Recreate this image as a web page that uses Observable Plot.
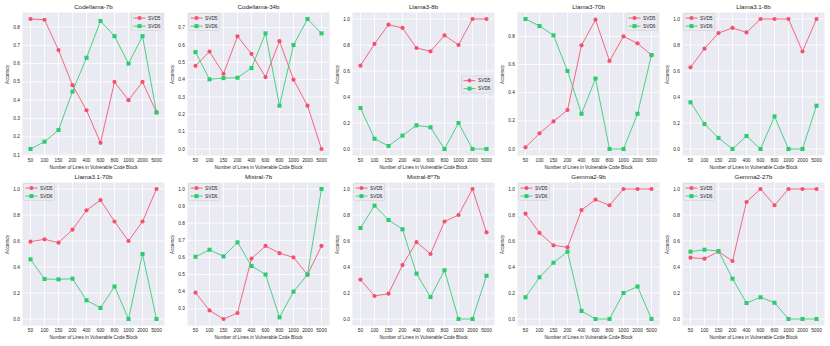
<!DOCTYPE html>
<html>
<head>
<meta charset="utf-8">
<script src="https://cdn.jsdelivr.net/npm/d3@7"></script>
<script src="https://cdn.jsdelivr.net/npm/@observablehq/plot@0.6"></script>
<style>
  body { margin: 0; background: #fff; }
  #wrap { position: relative; width: 830px; height: 346px; }
  #wrap > svg { position: absolute; }
</style>
</head>
<body>
<div id="wrap"></div>
<script>
// ---- data ----
const lineCounts = ["50", "100", "150", "200", "400", "600", "800", "1000", "2000", "5000"];
const models = ["Codellama-7b", "Codellama-34b", "Llama3-8b", "Llama3-70b", "Llama3.1-8b",
                "Llama3.1-70b", "Mistral-7b", "Mixtral-8*7b", "Gemma2-9b", "Gemma2-27b"];
const seriesNames = ["SVD5", "SVD6"];

const svd5 = [
  [0.844, 0.840, 0.674, 0.482, 0.345, 0.167, 0.500, 0.400, 0.500, 0.333], // Codellama-7b
  [0.480, 0.562, 0.434, 0.650, 0.549, 0.415, 0.622, 0.400, 0.250, 0.000], // Codellama-34b
  [0.641, 0.808, 0.956, 0.931, 0.777, 0.751, 0.874, 0.800, 1.000, 1.000], // Llama3-8b
  [0.012, 0.111, 0.196, 0.277, 0.736, 0.918, 0.625, 0.800, 0.750, 0.667], // Llama3-70b
  [0.628, 0.772, 0.892, 0.931, 0.897, 1.000, 1.000, 1.000, 0.750, 1.000], // Llama3.1-8b
  [0.595, 0.613, 0.587, 0.687, 0.836, 0.915, 0.750, 0.600, 0.750, 1.000], // Llama3.1-70b
  [0.394, 0.290, 0.240, 0.275, 0.593, 0.667, 0.625, 0.600, 0.500, 0.667], // Mistral-7b
  [0.303, 0.177, 0.195, 0.415, 0.592, 0.500, 0.750, 0.800, 1.000, 0.667], // Mixtral-8*7b
  [0.810, 0.662, 0.567, 0.551, 0.838, 0.918, 0.875, 1.000, 1.000, 1.000], // Gemma2-9b
  [0.472, 0.464, 0.518, 0.446, 0.900, 1.000, 0.875, 1.000, 1.000, 1.000]  // Gemma2-27b
];
const svd6 = [
  [0.133, 0.173, 0.237, 0.447, 0.632, 0.833, 0.750, 0.600, 0.750, 0.333],
  [0.559, 0.402, 0.409, 0.411, 0.467, 0.667, 0.250, 0.600, 0.750, 0.667],
  [0.315, 0.079, 0.023, 0.103, 0.182, 0.167, 0.000, 0.200, 0.000, 0.000],
  [0.923, 0.873, 0.807, 0.554, 0.250, 0.500, 0.000, 0.000, 0.250, 0.667],
  [0.359, 0.192, 0.085, 0.000, 0.100, 0.000, 0.250, 0.000, 0.000, 0.333],
  [0.459, 0.308, 0.305, 0.310, 0.144, 0.085, 0.250, 0.000, 0.500, 0.000],
  [0.604, 0.645, 0.606, 0.688, 0.550, 0.500, 0.250, 0.400, 0.500, 1.000],
  [0.700, 0.872, 0.762, 0.690, 0.349, 0.169, 0.375, 0.000, 0.000, 0.333],
  [0.167, 0.321, 0.433, 0.518, 0.062, 0.000, 0.000, 0.200, 0.250, 0.000],
  [0.518, 0.533, 0.523, 0.310, 0.123, 0.167, 0.125, 0.000, 0.000, 0.000]
];
const yTicks = [
  [0.1, 0.2, 0.3, 0.4, 0.5, 0.6, 0.7, 0.8],
  [0.0, 0.1, 0.2, 0.3, 0.4, 0.5, 0.6, 0.7],
  [0.0, 0.2, 0.4, 0.6, 0.8, 1.0],
  [0.0, 0.2, 0.4, 0.6, 0.8],
  [0.0, 0.2, 0.4, 0.6, 0.8, 1.0],
  [0.0, 0.2, 0.4, 0.6, 0.8, 1.0],
  [0.3, 0.4, 0.5, 0.6, 0.7, 0.8, 0.9, 1.0],
  [0.0, 0.2, 0.4, 0.6, 0.8, 1.0],
  [0.0, 0.2, 0.4, 0.6, 0.8, 1.0],
  [0.0, 0.2, 0.4, 0.6, 0.8, 1.0]
];
const legendPos = ["upper right", "upper left", "center right", "upper right", "upper left",
                   "upper left", "upper left", "upper left", "upper left", "upper left"];
const xLabel = "Number of Lines in Vulnerable Code Block";
const yLabel = "Accuracy";

// ---- styling ----
const RED = "#f5506e";
const GREEN = "#2ecc71";
const FONT = "'Liberation Sans', Arial, Helvetica, sans-serif";
const W = 165, H = 170;

function legendMark(pos) {
  return (index, scales, values, dims) => {
    const {width, height, marginLeft, marginRight, marginTop, marginBottom} = dims;
    const bw = 31, bh = 17;
    let bx, by;
    if (pos === "upper left") { bx = marginLeft + 1.5; by = marginTop + 1.5; }
    else if (pos === "upper right") { bx = width - marginRight - 1.5 - bw; by = marginTop + 1.5; }
    else { bx = width - marginRight - 1.5 - bw; by = (marginTop + height - marginBottom) / 2 - bh / 2 + 1; }
    const g = d3.create("svg:g");
    g.append("rect").attr("x", bx).attr("y", by).attr("width", bw).attr("height", bh)
      .attr("rx", 1.5).attr("fill", "#eaeaf2").attr("fill-opacity", 0.9)
      .attr("stroke", "#d2d2d2").attr("stroke-width", 0.6);
    seriesNames.forEach((name, k) => {
      const y = by + 4.6 + k * 8;
      const c = k === 0 ? RED : GREEN;
      g.append("line").attr("x1", bx + 2).attr("x2", bx + 14).attr("y1", y).attr("y2", y)
        .attr("stroke", c).attr("stroke-width", 1).attr("stroke-opacity", 0.85);
      if (k === 0) g.append("circle").attr("cx", bx + 8).attr("cy", y).attr("r", 2).attr("fill", c);
      else g.append("rect").attr("x", bx + 6).attr("y", y - 2).attr("width", 4).attr("height", 4).attr("fill", c);
      g.append("text").attr("x", bx + 16.5).attr("y", y).attr("dy", "0.35em")
        .attr("text-anchor", "start").attr("font-weight", "normal")
        .attr("font-size", 4.8).attr("fill", "#262626").attr("font-family", FONT).text(name);
    });
    return g.node();
  };
}

function panel(i) {
  const d5 = lineCounts.map((l, j) => ({x: l, y: svd5[i][j], s: "SVD5"}));
  const d6 = lineCounts.map((l, j) => ({x: l, y: svd6[i][j], s: "SVD6"}));
  const all = svd5[i].concat(svd6[i]);
  const mn = d3.min(all), mx = d3.max(all), r = mx - mn;
  return Plot.plot({
    width: W, height: H,
    marginLeft: 22, marginRight: 1, marginTop: 12, marginBottom: 15,
    style: {fontFamily: FONT, fontSize: "4.8px", background: "transparent", color: "#262626", fontWeight: "normal"},
    x: {type: "point", domain: lineCounts, padding: 0.45, axis: null},
    y: {domain: [mn - 0.05 * r, mx + 0.05 * r], axis: null},
    marks: [
      Plot.frame({fill: "#eaeaf2", stroke: null}),
      Plot.gridX(lineCounts, {stroke: "#ffffff", strokeOpacity: 1, strokeWidth: 0.8}),
      Plot.gridY(yTicks[i], {stroke: "#ffffff", strokeOpacity: 1, strokeWidth: 0.8}),
      Plot.axisX(lineCounts, {tickSize: 0, tickPadding: 3.5, label: null, fill: "#262626"}),
      Plot.axisY(yTicks[i], {tickSize: 0, tickPadding: 2.5, tickFormat: d3.format(".1f"), label: null, fill: "#262626"}),
      Plot.line(d5, {x: "x", y: "y", stroke: RED, strokeWidth: 1, strokeOpacity: 0.85}),
      Plot.line(d6, {x: "x", y: "y", stroke: GREEN, strokeWidth: 1, strokeOpacity: 0.85}),
      Plot.dot(d5, {x: "x", y: "y", fill: RED, r: 2.1, symbol: "circle"}),
      Plot.dot(d6, {x: "x", y: "y", fill: GREEN, r: 2.3, symbol: "square"}),
      Plot.text([models[i]], {frameAnchor: "top", dy: -5.3, lineAnchor: "middle", fontSize: 6.2, fontWeight: "normal", fill: "#222"}),
      Plot.text([xLabel], {frameAnchor: "bottom", dy: 12, lineAnchor: "middle", fontSize: 4.7, fill: "#262626"}),
      Plot.text([yLabel], {frameAnchor: "left", dx: -15, rotate: -90, lineAnchor: "middle", fontSize: 4.7, fill: "#262626"}),
      legendMark(legendPos[i])
    ]
  });
}

const wrap = document.getElementById("wrap");
models.forEach((m, i) => {
  const svg = panel(i);
  svg.style.left = (i % 5) * 165 + "px";
  svg.style.top = Math.floor(i / 5) * 170 + "px";
  wrap.appendChild(svg);
});
</script>
</body>
</html>
